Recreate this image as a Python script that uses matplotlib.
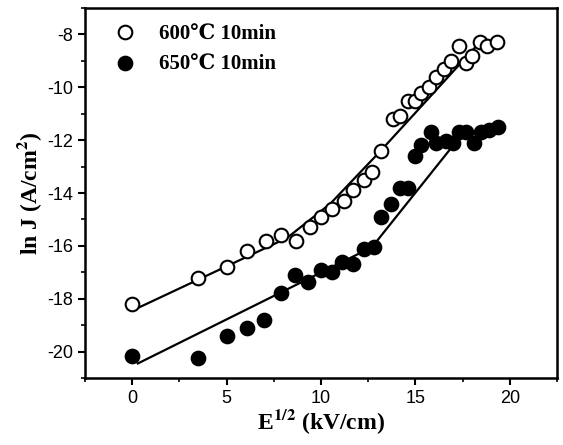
import matplotlib
matplotlib.use("Agg")
import matplotlib.pyplot as plt
from matplotlib.ticker import MultipleLocator

plt.rcParams["mathtext.fontset"] = "stix"
plt.rcParams["axes.unicode_minus"] = False

# Data: 600 C 10 min (open circles)
x600 = [0.0, 3.5, 5.0, 6.1, 7.1, 7.9, 8.7, 9.4, 10.0, 10.6, 11.2, 11.7, 12.3, 12.7,
        13.2, 13.8, 14.2, 14.6, 15.0, 15.3, 15.7, 16.1, 16.5, 16.9, 17.3, 17.7,
        18.0, 18.4, 18.8, 19.3]
y600 = [-18.2, -17.2, -16.8, -16.2, -15.8, -15.6, -15.8, -15.3, -14.9, -14.6, -14.3,
        -13.9, -13.5, -13.2, -12.4, -11.2, -11.1, -10.5, -10.5, -10.2, -10.0, -9.6,
        -9.3, -9.0, -8.45, -9.1, -8.8, -8.3, -8.45, -8.3]

# Data: 650 C 10 min (filled circles)
x650 = [0.0, 3.5, 5.0, 6.1, 7.0, 7.9, 8.6, 9.3, 10.0, 10.6, 11.1, 11.7, 12.3, 12.8,
        13.2, 13.7, 14.2, 14.6, 15.0, 15.3, 15.8, 16.1, 16.6, 17.0, 17.3, 17.7,
        18.1, 18.5, 18.9, 19.4]
y650 = [-20.15, -20.25, -19.4, -19.1, -18.8, -17.8, -17.1, -17.35, -16.9, -17.0,
        -16.6, -16.7, -16.1, -16.05, -14.9, -14.4, -13.8, -13.8, -12.6, -12.2,
        -11.7, -12.1, -12.05, -12.1, -11.7, -11.7, -12.1, -11.7, -11.6, -11.5]

# Fit lines
fit600_x = [0.3, 8.2, 10.5, 13.1, 18.6]
fit600_y = [-18.35, -15.7, -14.4, -12.45, -8.15]
fit650_x = [0.3, 12.7, 17.0]
fit650_y = [-20.45, -16.05, -12.2]

labels = ["600\u2103 10min", "650\u2103 10min"]

W, H = 563, 445
fig = plt.figure(figsize=(W / 100, H / 100), dpi=100)
ax = fig.add_axes([85 / W, 1 - 378 / H, (557 - 85) / W, (378 - 8) / H])

ax.plot(fit600_x, fit600_y, color="black", lw=1.6, zorder=2)
ax.plot(fit650_x, fit650_y, color="black", lw=1.6, zorder=2)
ax.plot(x600, y600, "o", ms=9.8, mfc="white", mec="black", mew=1.5, zorder=3,
        label=labels[0])
ax.plot(x650, y650, "o", ms=9.8, mfc="black", mec="black", mew=1.5, zorder=3,
        label=labels[1])

ax.set_xlim(-2.5, 22.5)
ax.set_ylim(-21, -7)
ax.xaxis.set_major_locator(MultipleLocator(5))
ax.xaxis.set_minor_locator(MultipleLocator(2.5))
ax.yaxis.set_major_locator(MultipleLocator(2))
ax.yaxis.set_minor_locator(MultipleLocator(1))
ax.tick_params(which="major", direction="out", length=5, width=1.5, labelsize=13)
ax.tick_params(which="minor", direction="out", length=3, width=1.2)
for lab in ax.get_xticklabels() + ax.get_yticklabels():
    lab.set_family(["Liberation Sans", "DejaVu Sans"])
for s in ax.spines.values():
    s.set_linewidth(1.8)

serif = ["Liberation Serif", "DejaVu Serif", "DejaVu Sans"]
ax.set_xlabel(r"E$^{\mathbf{1/2}}$ (kV/cm)", fontsize=17, fontweight="bold",
              family=serif, labelpad=0)
ax.set_ylabel(r"ln J (A/cm$^{\mathbf{2}}$)", fontsize=17, fontweight="bold",
              family=serif, labelpad=2)

leg = ax.legend(loc="upper left", bbox_to_anchor=(0.022, 1.0), frameon=False,
                handletextpad=1.05, borderaxespad=0.4, labelspacing=0.5,
                handlelength=1.2,
                prop={"family": serif, "weight": "bold", "size": 15})

fig.savefig("out.png", dpi=100)
